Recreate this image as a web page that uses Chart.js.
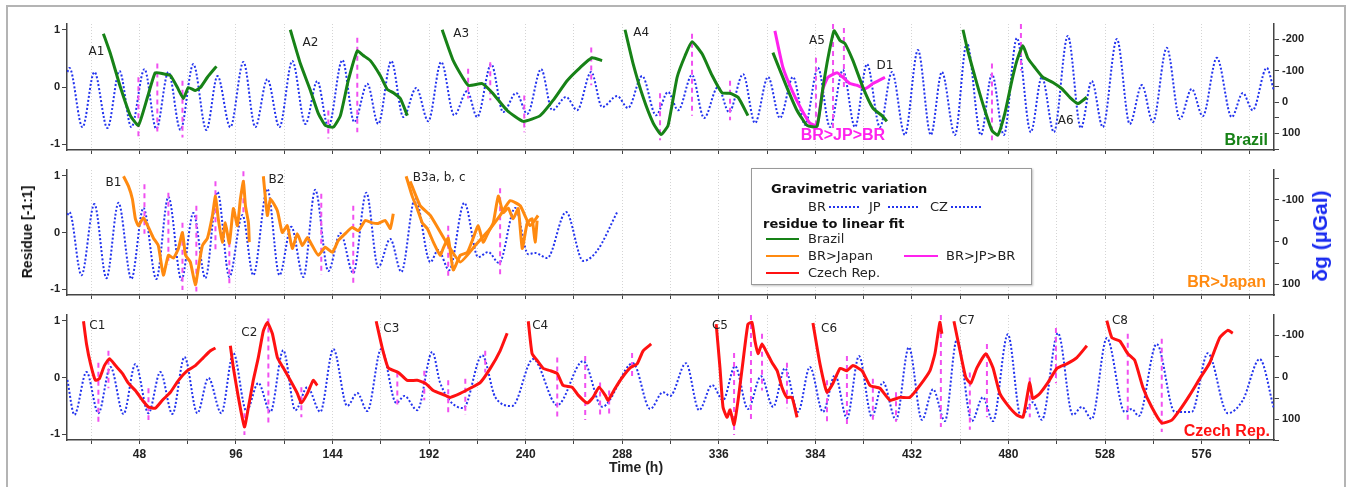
<!DOCTYPE html>
<html lang="en">
<head>
<meta charset="UTF-8">
<title>Residue to linear fit and gravimetric variation</title>
<script src="https://cdn.jsdelivr.net/npm/chart.js"></script>
<style>
  body { margin:0; width:1351px; height:487px; overflow:hidden; position:relative; background:#fff; font-family:'DejaVu Sans', sans-serif; }
  .frame { position:absolute; left:6px; top:5px; width:1340px; height:520px; border:2px solid #b4b4b4; box-sizing:border-box; }
  canvas { position:absolute; left:0; }
  .ytitle { position:absolute; white-space:nowrap; font-family:'Liberation Sans', Arial, sans-serif; font-weight:bold; transform:translate(-50%,-50%) rotate(-90deg); }
  .xtitle { position:absolute; white-space:nowrap; font-family:'Liberation Sans', Arial, sans-serif; font-weight:bold; font-size:14px; color:#222; transform:translate(-50%,-50%); }
  #legend { position:absolute; left:751px; top:168px; width:281px; height:117px; border:1px solid #999; background:#fff; box-sizing:border-box; box-shadow:1px 1px 2px rgba(0,0,0,0.25); font-size:13px; color:#222; }
  #legend div { position:absolute; white-space:nowrap; transform:translateY(-50%); }
  #legend .b { font-weight:bold; color:#111; }
  #legend .ln { height:0; transform:none; }
</style>
</head>
<body>
<div class="frame"></div>
<canvas id="pBR" width="1351" height="160" style="top:0"></canvas>
<canvas id="pJP" width="1351" height="145" style="top:160px"></canvas>
<canvas id="pCZ" width="1351" height="182" style="top:305px"></canvas>

<div class="ytitle" style="left:27px; top:232px; font-size:14px; color:#111;">Residue [-1:1]</div>
<div class="ytitle" style="left:1320px; top:236px; font-size:21px; color:#1a2bf0;">δg (µGal)</div>
<div class="xtitle" style="left:636px; top:467px;">Time (h)</div>

<div id="legend">
  <div class="b" style="left:19px; top:19px;">Gravimetric variation</div>
  <div style="left:56px; top:37px;">BR</div>
  <div class="ln" style="left:77px; top:37px; width:30px; border-top:2px dotted #2233ee;"></div>
  <div style="left:117px; top:37px;">JP</div>
  <div class="ln" style="left:136px; top:37px; width:30px; border-top:2px dotted #2233ee;"></div>
  <div style="left:178px; top:37px;">CZ</div>
  <div class="ln" style="left:199px; top:37px; width:30px; border-top:2px dotted #2233ee;"></div>
  <div class="b" style="left:11px; top:54px;">residue to linear fit</div>
  <div class="ln" style="left:14px; top:69px; width:33px; border-top:2px solid #178217;"></div>
  <div style="left:56px; top:69px;">Brazil</div>
  <div class="ln" style="left:14px; top:86px; width:33px; border-top:2px solid #ff8a10;"></div>
  <div style="left:56px; top:86px;">BR&gt;Japan</div>
  <div class="ln" style="left:14px; top:103px; width:33px; border-top:2px solid #ff1111;"></div>
  <div style="left:56px; top:103px;">Czech Rep.</div>
  <div class="ln" style="left:152px; top:86px; width:34px; border-top:2px solid #ff22ee;"></div>
  <div style="left:194px; top:86px;">BR&gt;JP&gt;BR</div>
</div>

<script>
// time axis (h)
const X_MIN = 12, X_MAX = 612;
const timeTicks = [24, 48, 72, 96, 120, 144, 168, 192, 216, 240, 264, 288, 312, 336, 360, 384, 408, 432, 456, 480, 504, 528, 552, 576, 600];
const residueTicks = [-1, 0, 1];
const gravTicks = [-200, -150, -100, -50, 0, 50, 100, 150];

// gravimetric variation, [time h, µGal] at the turning points of each curve
const gravBR = [[12.2,-96],[13.2,-109],[19.7,80],[25.6,-96],[32.1,83],[38.1,-99],[44.0,80],[50.5,-105],[56.4,86],[62.4,-96],[68.4,89],[74.8,-121],[81.3,89],[86.8,-83],[93.2,80],[99.7,-128],[105.6,80],[111.6,-73],[117.6,80],[124.0,-131],[130.5,70],[136.4,-67],[141.9,80],[148.9,-134],[154.8,64],[161.3,-58],[166.7,70],[173.2,-131],[179.2,48],[185.6,-45],[191.6,61],[198.0,-128],[204.5,42],[210.9,-35],[215.9,48],[222.9,-121],[228.8,32],[235.3,-29],[240.8,38],[247.7,-105],[253.2,26],[260.1,-16],[265.6,26],[272.6,-96],[278.0,16],[285.5,-19],[290.9,19],[297.9,-83],[304.8,42],[310.8,-32],[315.8,26],[322.7,-86],[328.7,51],[335.6,-48],[341.1,32],[348.1,-89],[354.0,67],[360.5,-80],[366.4,51],[372.9,-80],[378.9,73],[385.3,-109],[391.3,80],[397.7,-102],[403.7,80],[409.7,-121],[416.1,80],[422.1,-96],[428.5,105],[435.0,-166],[441.4,105],[446.9,-96],[453.4,105],[459.3,-189],[466.3,105],[471.8,-89],[477.7,105],[484.2,-204],[491.1,96],[496.6,-80],[502.6,96],[509.5,-211],[516.0,83],[521.4,-67],[526.9,80],[533.9,-201],[540.3,70],[546.3,-54],[551.8,64],[558.7,-173],[565.2,54],[571.1,-42],[576.6,45],[583.6,-141],[591.0,48],[596.5,-29],[601.4,26],[608.4,-109],[611.9,-38]];
const gravJP = [[12.2,-64],[13.2,-71],[19.2,79],[25.6,-90],[31.6,86],[37.6,-93],[44.0,88],[50.0,-81],[56.4,88],[62.4,-107],[68.9,90],[74.8,-69],[80.8,86],[86.8,-119],[92.7,83],[99.2,-64],[104.6,79],[111.6,-126],[117.6,79],[123.5,-36],[129.5,83],[135.4,-124],[141.9,69],[147.9,-21],[154.3,74],[160.8,-117],[166.7,60],[172.7,-7],[178.2,71],[185.1,-105],[192.6,48],[196.5,19],[202.0,67],[209.5,-93],[216.4,36],[221.4,24],[226.8,50],[234.8,-81],[241.3,29],[244.7,26],[250.7,38],[260.1,-71],[268.6,45],[275.5,21],[285.5,-71]];
const gravCZ = [[12.2,7],[15.7,90],[21.7,-12],[27.6,86],[33.6,-24],[40.1,88],[46.0,-31],[52.5,86],[58.4,-12],[64.4,88],[70.4,-48],[76.8,86],[82.3,2],[88.7,86],[94.7,-57],[101.2,81],[107.1,14],[113.1,83],[119.5,-64],[125.5,79],[131.5,24],[137.9,83],[144.4,-67],[151.3,69],[156.3,38],[161.3,81],[168.2,-67],[175.7,62],[179.7,45],[186.1,79],[193.6,-60],[197.5,14],[209.0,74],[218.4,-52],[224.9,48],[233.3,69],[243.7,-43],[255.7,67],[268.6,-38],[278.0,71],[293.4,-33],[301.9,76],[308.3,36],[311.8,45],[319.7,-33],[326.2,79],[332.7,19],[338.1,55],[344.1,-26],[350.5,76],[357.0,-2],[363.0,71],[368.9,-21],[375.4,83],[381.3,-24],[387.8,83],[393.8,-5],[399.7,98],[405.7,-50],[412.1,95],[417.6,12],[424.1,102],[430.5,-71],[437.0,102],[442.5,29],[448.4,105],[454.4,-90],[461.8,105],[467.3,48],[472.3,105],[479.7,-102],[486.2,95],[492.1,60],[496.6,102],[504.6,-105],[512.0,90],[516.5,71],[521.4,100],[528.9,-93],[537.8,83],[541.3,76],[544.8,93],[553.7,-79],[562.7,83],[571.1,83],[579.1,-57],[589.0,86],[596.5,55],[604.9,-43],[611.9,74]];

// residue to linear fit, [time h, residue]
const resA1 = [[30.1,0.93],[33.6,0.58],[38.6,-0.01],[43.5,-0.5],[47.5,-0.67],[52.0,-0.18],[55.9,0.25],[59.9,0.23],[63.4,0.2],[66.9,-0.01],[69.9,-0.2],[72.3,-0.01],[75.8,-0.06],[78.3,-0.01],[81.8,0.17],[86.3,0.36]];
const resA2 = [[123.0,1.0],[128.0,0.41],[133.0,-0.06],[136.9,-0.46],[140.4,-0.67],[144.4,-0.7],[147.9,-0.5],[151.8,0.11],[156.3,0.63],[159.3,0.55],[162.8,0.46],[167.7,0.2],[171.2,-0.04],[174.2,-0.1],[177.7,-0.2],[181.2,-0.5]];
const resA3 = [[198.5,1.0],[204.0,0.46],[211.4,0.03],[218.4,0.06],[223.4,-0.1],[230.8,-0.41],[238.8,-0.6],[247.2,-0.5],[253.7,-0.23],[260.6,0.11],[267.1,0.34],[273.0,0.51],[278.0,0.46]];
const resA4 = [[289.4,1.0],[293.4,0.41],[298.4,-0.18],[303.4,-0.63],[307.3,-0.83],[310.8,-0.67],[315.3,0.17],[319.3,0.55],[322.7,0.79],[327.7,0.58],[332.7,0.2],[337.6,-0.1],[341.6,-0.11],[345.6,-0.18],[350.5,-0.5]];
const resA5 = [[362.9,0.6],[369.9,-0.01],[374.9,-0.41],[379.9,-0.67],[384.8,-0.69],[387.8,-0.01],[390.3,0.51],[393.3,0.98],[396.3,0.81],[398.7,0.76],[402.7,0.46],[407.7,-0.01],[412.6,-0.37],[417.1,-0.5],[419.6,-0.6]];
const resA6 = [[457.4,1.0],[459.8,0.63],[464.3,0.06],[468.3,-0.41],[471.8,-0.76],[474.7,-0.84],[478.2,-0.46],[481.7,0.11],[484.2,0.46],[487.2,0.72],[489.7,0.5],[493.1,0.34],[497.1,0.17],[502.1,0.08],[506.5,-0.03],[510.5,-0.18],[514.5,-0.29],[518.9,-0.18]];
const resD1 = [[363.9,0.98],[367.9,0.34],[372.9,-0.1],[377.4,-0.41],[381.3,-0.63],[384.8,-0.67],[387.8,-0.03],[390.3,0.17],[394.8,0.25],[397.7,0.17],[401.2,0.06],[404.7,0.03],[408.7,-0.03],[412.6,0.06],[417.6,0.15],[418.6,0.17]];

const resB1 = [[40.1,0.99],[42.5,0.82],[44.5,0.59],[46.0,0.24],[47.5,0.12],[50.0,0.26],[52.5,0.09],[55.0,-0.1],[57.4,-0.23],[59.9,-0.75],[62.4,-0.4],[64.9,-0.45],[67.4,-0.28],[69.4,0.0],[70.9,-0.4],[73.3,-0.52],[75.8,-0.92],[77.3,-0.63],[79.3,-0.23],[81.8,-0.1],[84.3,0.3],[85.8,0.64],[87.2,0.24],[89.2,-0.17],[90.7,0.17],[92.7,-0.19],[94.7,0.42],[96.7,0.12],[98.2,0.59],[99.7,0.9],[100.7,0.47],[102.2,0.17],[102.6,-0.17]];
const resB2 = [[109.6,0.99],[111.6,0.3],[113.1,0.59],[116.6,0.38],[119.0,0.0],[121.5,0.12],[124.0,-0.28],[126.5,-0.02],[129.0,-0.23],[131.5,-0.09],[133.9,-0.23],[136.9,-0.4],[140.4,-0.26],[143.9,-0.35],[146.9,-0.14],[150.3,-0.02],[153.8,0.09],[156.8,0.03],[160.3,0.21],[163.8,0.17],[166.7,0.16],[170.2,0.21],[172.7,0.07],[174.2,0.33]];
const resB3a = [[180.6,0.99],[183.6,0.64],[186.1,0.42],[188.6,0.17],[191.1,0.07],[194.1,-0.17],[197.5,-0.4],[199.0,-0.28],[201.5,-0.1],[204.0,-0.66],[207.5,-0.4],[211.0,-0.35],[213.9,-0.1],[216.4,0.12],[218.9,-0.17],[221.4,0.0],[223.9,0.17],[226.4,0.64],[228.8,0.35],[231.3,0.43],[233.8,0.24],[236.3,0.42],[238.3,-0.28],[240.8,0.17],[243.2,0.24],[244.7,-0.17],[245.7,0.21]];
const resB3b = [[182.6,0.9],[187.6,0.47],[192.6,0.3],[200.0,-0.14],[207.5,-0.52],[214.9,-0.23],[222.4,0.07],[227.3,0.3],[232.3,0.56],[237.3,0.47],[242.2,0.12],[246.2,0.3]];

const resC1 = [[20.2,0.99],[21.7,0.59],[23.7,0.24],[26.1,-0.05],[28.1,-0.02],[30.6,0.21],[33.1,0.33],[36.1,0.21],[39.6,0.07],[42.5,-0.1],[46.0,-0.23],[49.5,-0.4],[52.5,-0.52],[55.9,-0.54],[59.4,-0.4],[63.4,-0.26],[67.4,-0.05],[71.8,0.12],[75.8,0.21],[79.8,0.35],[83.3,0.47],[85.8,0.52]];
const resC2 = [[93.2,0.56],[94.7,0.17],[97.2,-0.35],[100.2,-0.87],[102.2,-0.52],[104.6,-0.05],[107.1,0.35],[109.6,0.82],[111.6,0.97],[114.1,0.77],[116.6,0.35],[119.5,0.17],[123.0,-0.05],[126.5,-0.28],[128.5,-0.45],[131.5,-0.28],[134.4,-0.05],[136.4,-0.14]];
const resC3 = [[165.7,0.99],[168.7,0.52],[171.7,0.17],[176.7,0.09],[181.1,-0.05],[186.1,-0.05],[190.1,-0.1],[194.1,-0.23],[199.0,-0.3],[202.5,-0.35],[207.5,-0.28],[212.4,-0.19],[217.4,-0.09],[222.4,0.16],[227.3,0.47],[230.8,0.78]];
const resC4 = [[241.3,0.99],[243.2,0.42],[245.7,0.3],[248.7,0.16],[252.2,0.12],[255.7,0.07],[258.6,-0.14],[263.1,-0.17],[266.1,-0.31],[270.6,-0.45],[273.5,-0.35],[276.5,-0.17],[279.5,-0.31],[281.0,-0.4],[284.5,-0.19],[288.0,0.0],[291.9,0.17],[295.4,0.24],[298.4,0.47],[302.4,0.59]];
const resC5 = [[334.7,0.94],[336.6,0.17],[338.1,-0.52],[340.1,-0.7],[341.6,-0.57],[343.6,-0.83],[345.6,-0.4],[348.1,0.3],[350.5,0.94],[352.5,0.97],[354.0,0.64],[355.5,0.42],[357.5,0.59],[360.0,0.43],[362.5,0.26],[365.0,0.12],[367.4,-0.17],[369.9,-0.35],[372.4,-0.35],[374.9,-0.7]];
const resC6 = [[382.8,0.96],[386.3,0.24],[389.8,-0.26],[392.8,-0.1],[396.3,0.16],[399.7,0.12],[402.7,0.21],[407.2,0.12],[411.2,-0.14],[416.1,-0.19],[421.1,-0.4],[426.1,-0.35],[431.0,-0.35],[436.0,-0.14],[441.0,0.12],[443.5,0.43],[445.9,0.97],[446.9,0.77]];
const resC7 = [[452.9,0.99],[455.9,0.47],[458.8,0.0],[461.3,-0.1],[464.3,0.17],[468.8,0.42],[472.3,0.17],[475.7,-0.28],[479.7,-0.49],[484.2,-0.66],[487.2,-0.7],[489.2,-0.35],[490.6,-0.09],[492.1,-0.37],[495.6,-0.28],[499.6,-0.09],[504.1,0.16],[509.0,0.24],[514.0,0.35],[519.0,0.56]];
const resC8 = [[528.9,1.0],[531.4,0.7],[535.4,0.64],[539.3,0.42],[542.8,0.3],[546.8,-0.17],[551.2,-0.52],[556.2,-0.8],[561.2,-0.75],[565.2,-0.57],[570.1,-0.31],[575.1,-0.02],[580.1,0.26],[585.0,0.7],[589.0,0.83],[591.5,0.78]];

// dashed event markers, [time h, residue top, residue bottom]
const marksBR = [[47.5,0.17,-0.88],[56.9,0.41,-0.84],[69.4,0.11,-0.88],[141.9,-0.41,-0.9],[156.3,0.86,-0.79],[211.4,0.32,-0.2],[222.4,0.43,-0.23],[239.3,-0.15,-0.79],[272.6,0.69,0.03],[306.8,-0.11,-0.93],[322.7,0.93,-0.5],[341.6,0.11,-0.58],[384.3,0.51,-0.7],[392.8,1.1,-0.76],[398.2,1.03,-0.06],[471.8,0.41,-0.93],[486.2,1.1,0.29]];
const marksJP = [[50.5,0.85,-0.02],[62.4,0.7,-0.57],[69.4,0.17,-1.01],[76.3,0.47,-1.04],[85.8,0.9,-0.31],[92.7,-0.17,-0.97],[99.7,1.08,0.3],[138.4,0.68,-0.75],[154.3,0.47,-0.89],[201.5,0.12,-0.83],[227.3,0.78,-0.78]];
const marksCZ = [[27.6,0.26,-0.8],[32.6,0.47,-0.19],[52.5,-0.19,-0.75],[100.2,-0.63,-1.01],[112.1,1.04,-0.8],[128.5,-0.17,-0.7],[176.2,0.09,-0.52],[189.6,0.12,-0.4],[201.5,-0.05,-0.63],[210.0,-0.02,-0.66],[219.9,0.47,0.09],[255.7,0.35,-0.71],[269.6,0.38,-0.75],[277.0,-0.09,-0.66],[281.5,-0.23,-0.7],[292.9,0.43,0.0],[343.6,0.43,-1.01],[352.0,1.1,-0.8],[357.5,0.77,-0.23],[369.9,0.26,-0.54],[389.8,-0.05,-0.78],[399.7,0.38,-0.89],[412.6,-0.02,-0.8],[424.1,-0.26,-0.78],[446.4,1.1,-0.87],[460.8,0.09,-0.92],[469.3,0.59,-0.7],[490.6,0.0,-0.7],[503.6,0.87,-0.1],[539.3,0.77,-0.8],[556.2,0.68,-0.96]];

// segment names, [time h, residue, text]
const notesBR = [[26.6,0.61,'A1'],[133.0,0.77,'A2'],[208.0,0.92,'A3'],[297.4,0.94,'A4'],[384.8,0.8,'A5'],[418.6,0.37,'D1'],[508.5,-0.59,'A6']];
const notesJP = [[35.1,0.87,'B1'],[116.1,0.92,'B2'],[197.0,0.96,'B3a, b, c']];
const notesCZ = [[27.1,0.9,'C1'],[102.6,0.78,'C2'],[173.2,0.85,'C3'],[247.2,0.9,'C4'],[336.6,0.9,'C5'],[390.8,0.85,'C6'],[459.3,0.99,'C7'],[535.4,1.0,'C8']];

const GREEN = '#178217', ORANGE = '#ff8a10', RED = '#ff1111', MAGENTA = '#ff22ee', BLUE = '#2233ee';
const TICK_FONT = { family: 'Liberation Sans', size: 11, weight: 'bold' };

const toXY = pts => pts.map(([x, y]) => ({ x, y }));
const fixTicks = list => s => { s.ticks = list.map(v => ({ value: v })); };

const notesPlugin = {
    id: 'notes',
    afterDatasetsDraw(chart, args, opts) {
        const { ctx, chartArea, scales } = chart;
        ctx.save();
        ctx.textBaseline = 'middle';
        ctx.textAlign = 'center';
        ctx.font = '12px "DejaVu Sans"';
        ctx.fillStyle = '#222';
        (opts.items || []).forEach(([t, v, text]) => {
            ctx.fillText(text, scales.x.getPixelForValue(t), scales.y.getPixelForValue(v));
        });
        if (opts.extra) {
            const [t, v, text, color] = opts.extra;
            ctx.font = 'bold 16px "Liberation Sans"';
            ctx.fillStyle = color;
            ctx.fillText(text, scales.x.getPixelForValue(t), scales.y.getPixelForValue(v));
        }
        ctx.font = 'bold 16px "Liberation Sans"';
        ctx.textAlign = 'right';
        ctx.fillStyle = opts.titleColor;
        ctx.fillText(opts.title, chartArea.right - opts.titleDx, chartArea.bottom - opts.titleDy);
        ctx.restore();
    }
};

function residueSet(pts, color, width) {
    return { data: toXY(pts), yAxisID: 'y', borderColor: color, borderWidth: width, pointRadius: 0, tension: 0.15, order: 1 };
}

function makePanel(id, p) {
    const datasets = [];
    datasets.push({ data: toXY(p.grav), yAxisID: 'yR', borderColor: BLUE, borderWidth: 2, borderDash: [2, 2],
        pointRadius: 0, cubicInterpolationMode: 'monotone', order: 5 });
    p.residues.forEach(r => datasets.push(residueSet(r[0], r[1], 3)));
    p.marks.forEach(([t, top, bot]) => datasets.push({ data: [{ x: t, y: top }, { x: t, y: bot }], yAxisID: 'y',
        borderColor: '#f050f0', borderWidth: 2, borderDash: [5, 4], pointRadius: 0, order: 2 }));

    const rTicks = gravTicks.filter(v => v >= p.rMin && v <= p.rMax);

    new Chart(document.getElementById(id), {
        type: 'line',
        data: { datasets },
        options: {
            responsive: false,
            animation: false,
            layout: { autoPadding: false, padding: { top: p.padTop, left: 0, right: 0, bottom: 0 } },
            plugins: {
                legend: { display: false },
                tooltip: { enabled: false },
                notes: { items: p.notes, extra: p.extra, title: p.title, titleColor: p.titleColor, titleDx: p.titleDx, titleDy: p.titleDy }
            },
            scales: {
                x: {
                    type: 'linear', min: X_MIN, max: X_MAX,
                    afterBuildTicks: fixTicks(timeTicks),
                    afterFit: s => { s.height = p.xAxisH; },
                    grid: { color: '#d4d4d4', lineWidth: 1, tickLength: 4, tickColor: '#444' },
                    border: { color: '#444', width: 1.5, dash: [1, 2] },
                    ticks: {
                        autoSkip: false, maxRotation: 0, minRotation: 0, padding: 3, color: '#222',
                        font: { family: 'Liberation Sans', size: 12, weight: 'bold' },
                        callback: v => (p.xLabels && v % 48 === 0) ? String(v) : ''
                    }
                },
                y: {
                    position: 'left', min: -1.1, max: 1.1,
                    afterBuildTicks: fixTicks(residueTicks),
                    afterFit: s => { s.width = 67; },
                    grid: { drawOnChartArea: false, tickLength: 5, tickColor: '#444' },
                    border: { color: '#444', width: 1.5 },
                    ticks: { autoSkip: false, padding: 2, color: '#222', font: TICK_FONT }
                },
                yR: {
                    position: 'right', reverse: true, min: p.rMin, max: p.rMax,
                    afterBuildTicks: fixTicks(rTicks),
                    afterFit: s => { s.width = 77; },
                    grid: { drawOnChartArea: false, tickLength: 5, tickColor: '#444' },
                    border: { color: '#444', width: 1.5 },
                    ticks: { autoSkip: false, padding: 3, color: '#222', font: TICK_FONT,
                        callback: v => (v % 100 === 0) ? String(v) : '' }
                }
            }
        },
        plugins: [notesPlugin]
    });
}

makePanel('pBR', {
    padTop: 24, xAxisH: 10, rMin: -249, rMax: 153, xLabels: false, grav: gravBR,
    residues: [[resA1, GREEN], [resA2, GREEN], [resA3, GREEN], [resA4, GREEN], [resA5, GREEN], [resA6, GREEN], [resD1, MAGENTA]],
    marks: marksBR, notes: notesBR, extra: [397.7, -0.84, 'BR>JP>BR', MAGENTA],
    title: 'Brazil', titleColor: GREEN, titleDx: 6, titleDy: 9
});
makePanel('pJP', {
    padTop: 10, xAxisH: 10, rMin: -171, rMax: 126, xLabels: false, grav: gravJP,
    residues: [[resB1, ORANGE], [resB2, ORANGE], [resB3b, ORANGE], [resB3a, ORANGE]],
    marks: marksJP, notes: notesJP, extra: null,
    title: 'BR>Japan', titleColor: ORANGE, titleDx: 8, titleDy: 12
});
makePanel('pCZ', {
    padTop: 10, xAxisH: 47, rMin: -148, rMax: 150, xLabels: true, grav: gravCZ,
    residues: [[resC1, RED], [resC2, RED], [resC3, RED], [resC4, RED], [resC5, RED], [resC6, RED], [resC7, RED], [resC8, RED]],
    marks: marksCZ, notes: notesCZ, extra: null,
    title: 'Czech Rep.', titleColor: RED, titleDx: 4, titleDy: 8
});
</script>
</body>
</html>
